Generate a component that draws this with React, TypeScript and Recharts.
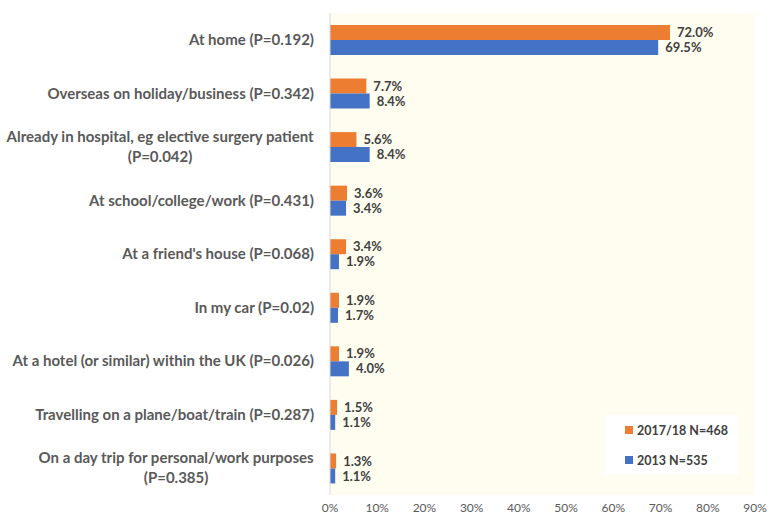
import React from "react";
import { BarChart, Bar, XAxis, YAxis, CartesianGrid, LabelList } from "recharts";

const categories = [
  "At home (P=0.192)",
  "Overseas on holiday/business (P=0.342)",
  "Already in hospital, eg elective surgery patient\n(P=0.042)",
  "At school/college/work (P=0.431)",
  "At a friend's house (P=0.068)",
  "In my car (P=0.02)",
  "At a hotel (or similar) within the UK (P=0.026)",
  "Travelling on a plane/boat/train (P=0.287)",
  "On a day trip for personal/work purposes\n(P=0.385)",
];
const series2017 = [72.0, 7.7, 5.6, 3.6, 3.4, 1.9, 1.9, 1.5, 1.3];
const series2013 = [69.5, 8.4, 8.4, 3.4, 1.9, 1.7, 4.0, 1.1, 1.1];
const xTicks = [0, 10, 20, 30, 40, 50, 60, 70, 80, 90];
const seriesNames = ["2017/18 N=468", "2013 N=535"];

const ORANGE = "#ED7D31";
const BLUE = "#4472C4";
const FONT = "Lato, 'Open Sans', sans-serif";

const data = categories.map((name, i) => ({
  name,
  s2017: series2017[i],
  s2013: series2013[i],
}));

let canvasCtx: CanvasRenderingContext2D | null = null;
function measure(text: string, font: string): number {
  if (typeof document === "undefined") return text.length * 7;
  if (!canvasCtx) {
    const c = document.createElement("canvas");
    canvasCtx = c.getContext("2d");
  }
  if (!canvasCtx) return text.length * 7;
  canvasCtx.font = font;
  return canvasCtx.measureText(text).width;
}

const TICK_SIZE = 15;

const CategoryTick = (props: any) => {
  const { x, y, payload } = props;
  const lines: string[] = String(payload.value).split("\n");
  const right = x - 8;
  const lineH = 20;
  const font = `bold ${TICK_SIZE}px Lato`;
  if (lines.length === 1) {
    return (
      <text x={right} y={y} dy="0.35em" textAnchor="end" fill="#595959" fontFamily={FONT} fontWeight="bold" fontSize={TICK_SIZE}>
        {lines[0]}
      </text>
    );
  }
  const maxW = Math.max(...lines.map((l) => measure(l, font)));
  const cx = right - maxW / 2;
  const startY = y - ((lines.length - 1) * lineH) / 2;
  return (
    <text textAnchor="middle" fill="#595959" fontFamily={FONT} fontWeight="bold" fontSize={TICK_SIZE}>
      {lines.map((l, i) => (
        <tspan key={i} x={cx} y={startY + i * lineH} dy="0.35em">
          {l}
        </tspan>
      ))}
    </text>
  );
};

const LegendBox = () => (
  <div
    style={{
      position: "absolute",
      left: 605,
      top: 415,
      background: "#ffffff",
      width: 133,
      height: 60,
      boxSizing: "border-box",
      padding: "0 0 0 20px",
      fontFamily: FONT,
      fontWeight: "bold",
      fontSize: 12.5,
      color: "#404040",
    }}
  >
    {[ORANGE, BLUE].map((c, i) => (
      <div key={i} style={{ display: "flex", alignItems: "center", height: 30 }}>
        <span style={{ display: "inline-block", width: 8, height: 8, background: c, marginRight: 4 }} />
        <span style={{ whiteSpace: "nowrap" }}>{seriesNames[i]}</span>
      </div>
    ))}
  </div>
);

const fmt = (v: any) => `${Number(v).toFixed(1)}%`;

export default function App() {
  return (
    <div style={{ position: "absolute", left: 0, top: 0, width: 778, height: 531, background: "#fff" }}>
      <BarChart
        width={778}
        height={531}
        data={data}
        layout="vertical"
        margin={{ top: 13, right: 23, bottom: 6, left: 0 }}
        barGap={0}
        barSize={15}
      >
        <CartesianGrid horizontal={false} vertical={false} fill="#FFFDF0" stroke="none" />
        <XAxis
          type="number"
          domain={[0, 90]}
          ticks={xTicks}
          tickFormatter={(v: number) => `${v}%`}
          axisLine={false}
          tickLine={false}
          height={30}
          tick={{ fill: "#595959", fontSize: 12, fontFamily: FONT }}
          interval={0}
        />
        <YAxis
          type="category"
          dataKey="name"
          width={330}
          axisLine={{ stroke: "#D9D9D9" }}
          tickLine={false}
          tick={<CategoryTick />}
          interval={0}
        />
        <Bar dataKey="s2017" fill={ORANGE} isAnimationActive={false}>
          <LabelList dataKey="s2017" position="right" offset={7} formatter={fmt} fill="#404040" fontWeight="bold" fontSize={13} fontFamily={FONT} />
        </Bar>
        <Bar dataKey="s2013" fill={BLUE} isAnimationActive={false}>
          <LabelList dataKey="s2013" position="right" offset={7} formatter={fmt} fill="#404040" fontWeight="bold" fontSize={13} fontFamily={FONT} />
        </Bar>
      </BarChart>
      <LegendBox />
    </div>
  );
}
